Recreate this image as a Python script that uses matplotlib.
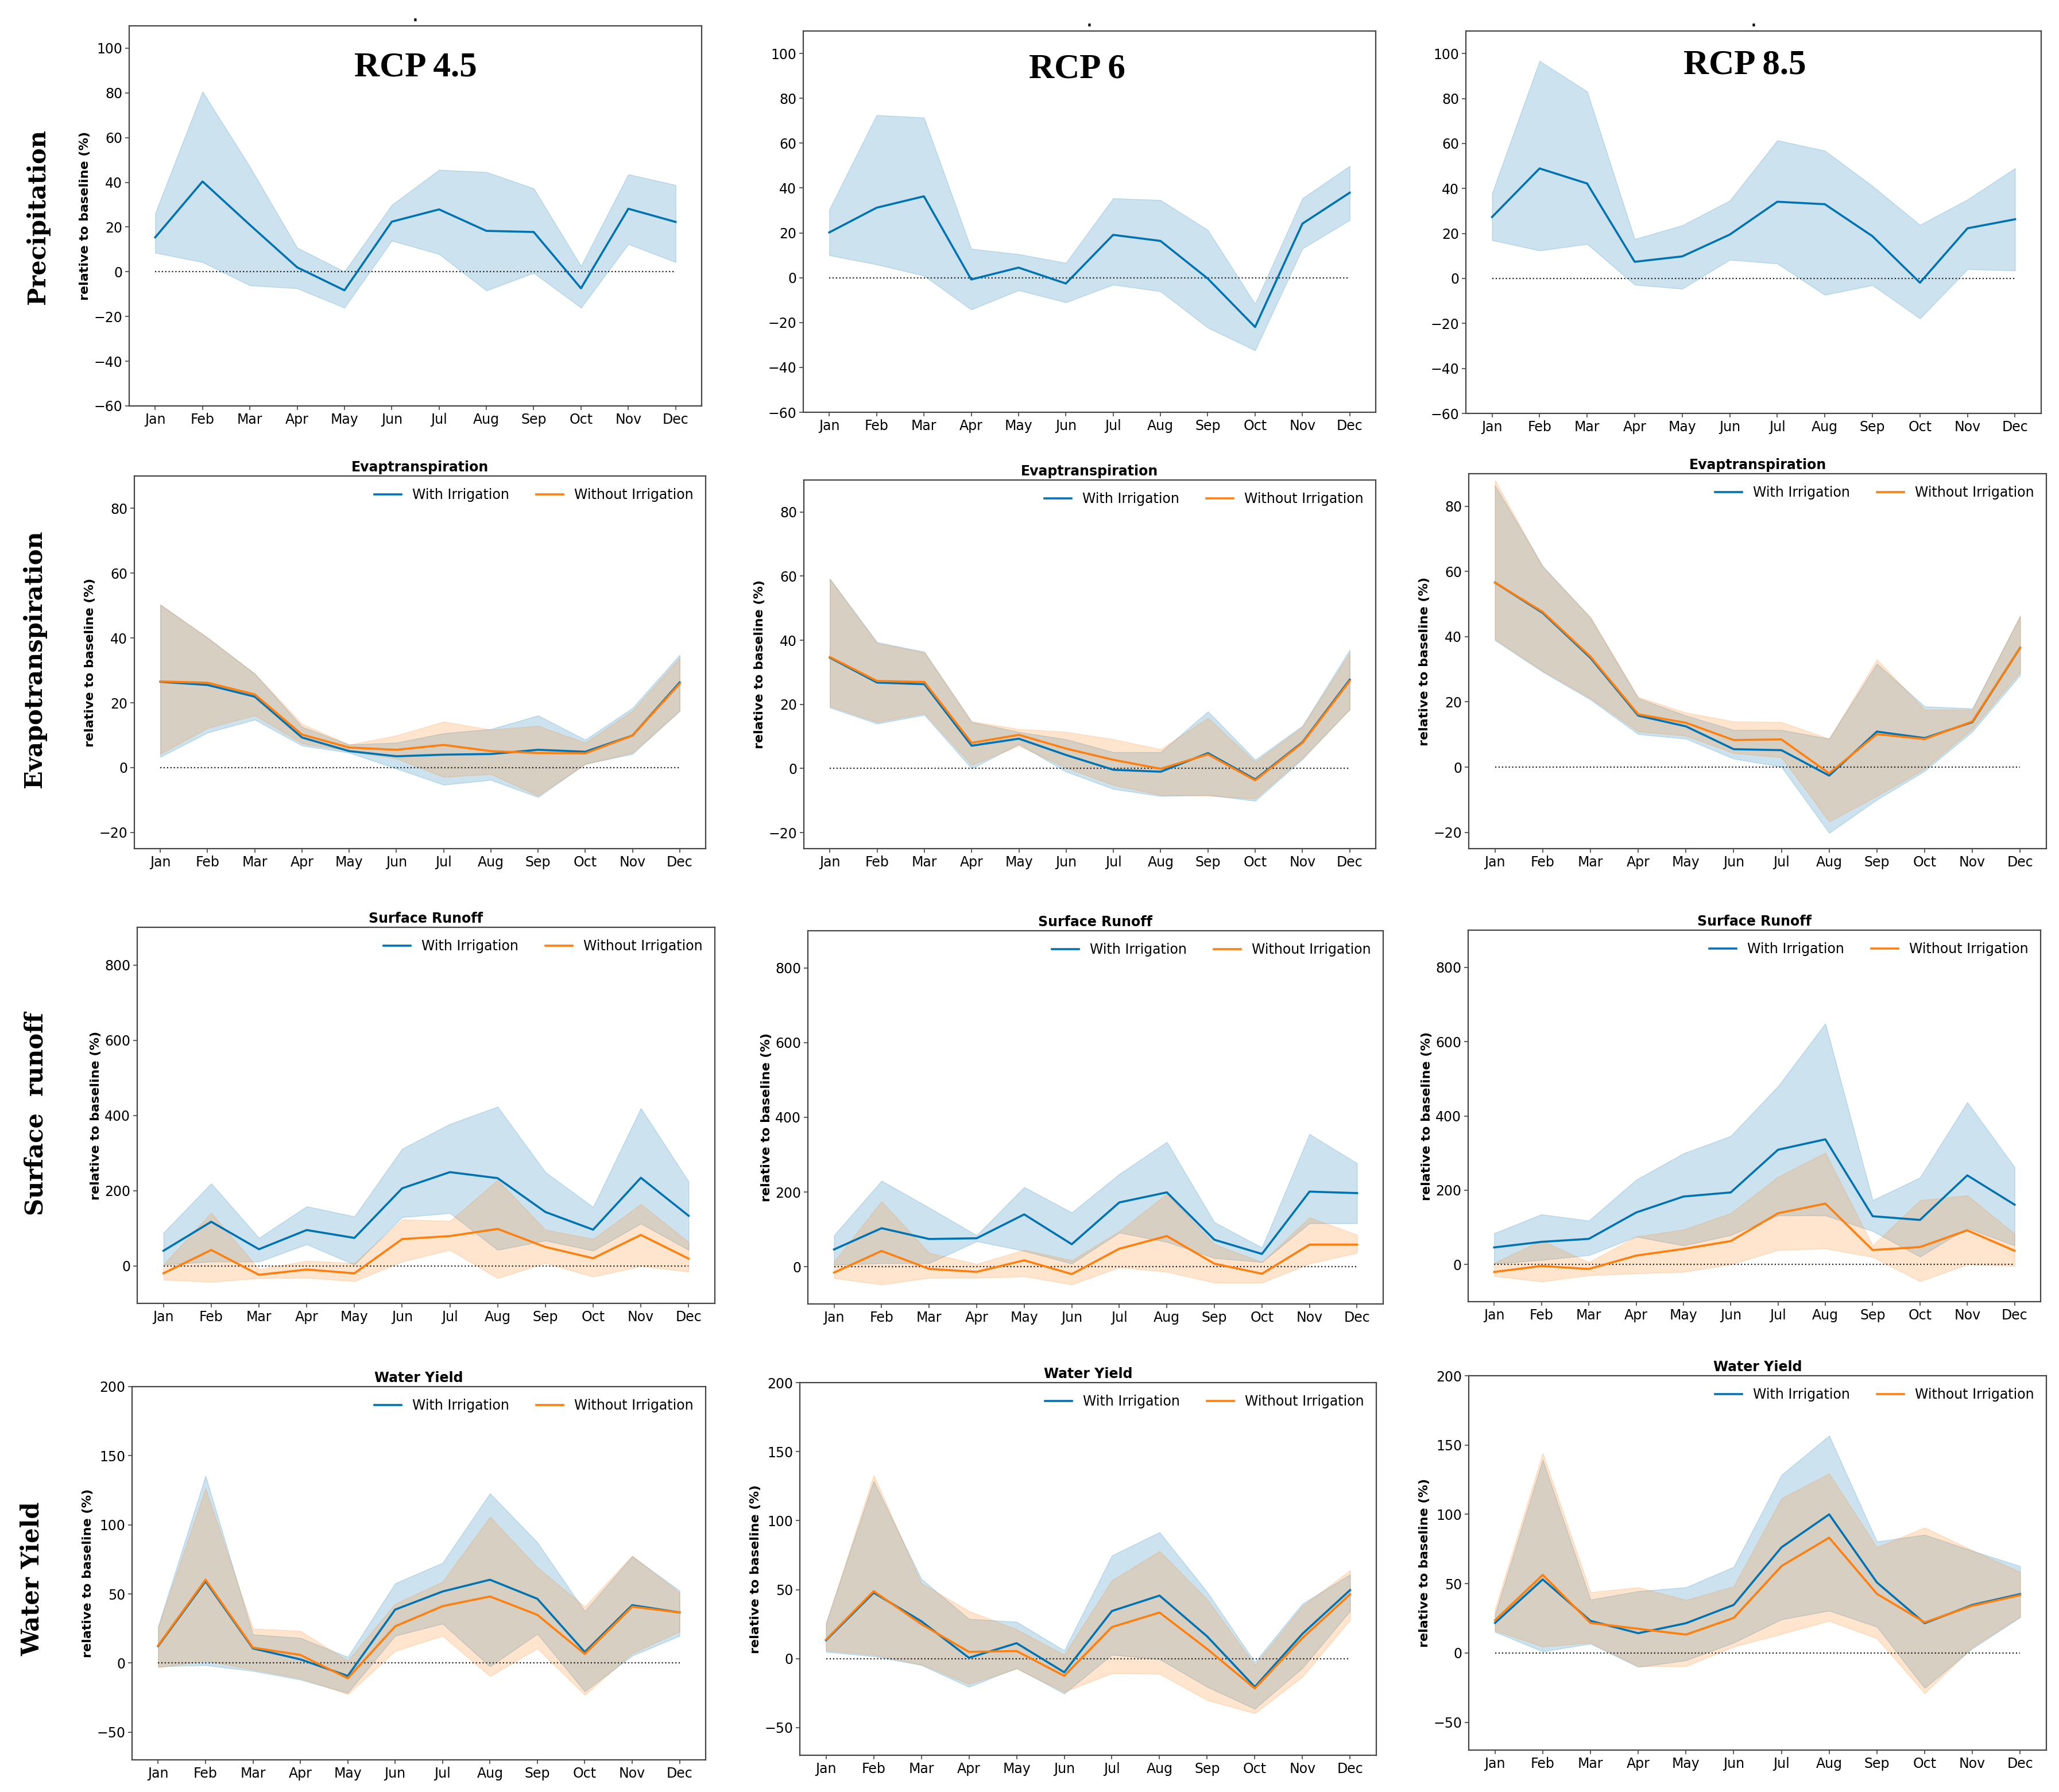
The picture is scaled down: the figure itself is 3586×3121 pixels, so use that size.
import numpy as np
import matplotlib
matplotlib.use("Agg")
import matplotlib.pyplot as plt

months = ["Jan", "Feb", "Mar", "Apr", "May", "Jun", "Jul", "Aug", "Sep", "Oct", "Nov", "Dec"]
scenarios = ["RCP 4.5", "RCP 6", "RCP 8.5"]
row_names = ["Precipitation", "Evapotranspiration", "Surface  runoff", "Water Yield"]
titles = [".", "Evaptranspiration", "Surface Runoff", "Water Yield"]
series_names = ["With Irrigation", "Without Irrigation"]

# --- precipitation (single series) ---
pr45_mean = [15.4, 40.4, 21.0, 2.0, -8.3, 22.4, 27.9, 18.3, 17.8, -7.4, 28.2, 22.3]
pr45_lo = [8.5, 4.3, -6.1, -7.4, -16.1, 13.9, 7.9, -8.4, -0.5, -16.1, 12.4, 4.3]
pr45_hi = [26.2, 80.6, 47.0, 10.8, 0.1, 29.9, 45.6, 44.6, 37.3, 2.6, 43.6, 38.8]

pr6_mean = [20.2, 31.2, 36.3, -0.8, 4.5, -2.6, 19.1, 16.4, -0.4, -22.0, 24.1, 37.9]
pr6_lo = [10.0, 5.9, 0.9, -14.2, -5.6, -11.0, -3.1, -6.1, -22.3, -32.4, 13.0, 25.7]
pr6_hi = [30.4, 72.5, 71.4, 12.9, 10.5, 6.6, 35.4, 34.6, 21.3, -11.7, 35.4, 49.8]

pr85_mean = [27.3, 48.9, 42.2, 7.4, 9.8, 19.5, 34.1, 33.0, 18.8, -1.9, 22.3, 26.3]
pr85_lo = [17.0, 12.4, 15.3, -2.8, -4.6, 8.3, 6.6, -7.3, -3.0, -17.8, 4.1, 3.5]
pr85_hi = [37.8, 96.7, 83.1, 17.5, 23.6, 34.6, 61.4, 56.8, 41.1, 23.8, 35.1, 49.0]

# --- evapotranspiration ---
et45_irr = [26.5, 25.5, 21.9, 9.3, 5.1, 3.5, 4.0, 4.2, 5.5, 4.9, 9.9, 26.3]
et45_irr_lo = [3.3, 10.8, 14.8, 6.8, 4.6, -0.3, -5.3, -3.8, -9.1, 1.1, 4.2, 17.5]
et45_irr_hi = [50.3, 40.1, 29.0, 12.6, 7.1, 7.7, 10.6, 11.9, 16.1, 8.6, 18.4, 34.8]
et45_no = [26.6, 26.2, 22.6, 10.2, 6.2, 5.5, 7.0, 5.1, 4.5, 4.4, 9.9, 25.9]
et45_no_lo = [4.2, 12.2, 16.1, 7.5, 5.1, 2.8, -2.9, -2.0, -8.7, 1.1, 4.6, 17.5]
et45_no_hi = [50.3, 40.1, 29.0, 13.5, 7.1, 9.9, 14.2, 11.7, 12.9, 7.7, 17.5, 33.9]

et6_irr = [34.6, 26.8, 26.3, 7.1, 9.3, 4.2, -0.4, -1.0, 4.8, -3.4, 8.2, 27.7]
et6_irr_lo = [19.0, 14.0, 16.7, 0.0, 7.6, -1.0, -6.4, -8.6, -8.3, -10.1, 2.9, 18.5]
et6_irr_hi = [59.2, 39.4, 36.4, 14.5, 11.4, 9.1, 5.1, 5.1, 17.8, 2.7, 13.3, 37.0]
et6_no = [34.8, 27.3, 27.0, 8.0, 10.5, 6.2, 2.7, -0.1, 4.4, -3.7, 8.0, 27.3]
et6_no_lo = [19.4, 14.5, 17.2, 1.1, 7.1, 0.2, -5.2, -8.3, -8.5, -9.4, 3.3, 18.3]
et6_no_hi = [59.1, 39.1, 36.2, 14.7, 12.3, 11.4, 9.1, 6.0, 15.8, 2.0, 13.0, 36.0]

et85_irr = [56.6, 47.3, 33.5, 15.8, 12.5, 5.5, 5.2, -2.6, 10.9, 8.9, 13.8, 36.6]
et85_irr_lo = [38.9, 29.2, 20.7, 10.1, 8.7, 2.6, 0.1, -20.2, -10.0, -1.2, 10.9, 28.2]
et85_irr_hi = [86.4, 61.7, 45.8, 21.1, 15.8, 11.4, 11.4, 8.7, 31.7, 18.6, 18.0, 46.3]
et85_no = [56.6, 47.6, 33.9, 16.2, 13.6, 8.3, 8.5, -1.9, 10.1, 8.6, 14.0, 36.6]
et85_no_lo = [39.2, 29.5, 21.1, 10.9, 9.6, 4.3, 3.0, -16.7, -8.9, -0.5, 11.8, 29.1]
et85_no_hi = [88.0, 61.3, 46.0, 21.5, 16.7, 14.0, 13.8, 8.7, 33.0, 17.6, 17.6, 46.5]

# --- surface runoff ---
sr45_irr = [40, 117, 44, 95, 74, 206, 249, 233, 143, 96, 234, 133]
sr45_irr_lo = [3, 11, 11, 57, 3, 129, 140, 42, 67, 40, 112, 42]
sr45_irr_hi = [88, 219, 74, 158, 131, 311, 377, 423, 249, 156, 419, 224]
sr45_no = [-20, 42, -24, -10, -20, 71, 79, 98, 50, 20, 82, 19]
sr45_no_lo = [-37, -43, -33, -32, -41, 11, 42, -33, 7, -29, -1, -16]
sr45_no_hi = [3, 141, -9, 13, 7, 123, 119, 228, 96, 71, 164, 63]

sr6_irr = [46, 103, 74, 76, 140, 60, 172, 199, 72, 34, 201, 197]
sr6_irr_lo = [5, 9, 9, 68, 42, 8, 91, 66, 23, 12, 116, 116]
sr6_irr_hi = [84, 230, 158, 84, 213, 145, 248, 334, 119, 51, 355, 277]
sr6_no = [-16, 42, -6, -14, 17, -20, 48, 82, 8, -19, 59, 59]
sr6_no_lo = [-31, -48, -30, -30, -26, -48, -2, -14, -43, -43, 8, 37]
sr6_no_hi = [13, 175, 37, 7, 45, 17, 95, 195, 60, 12, 132, 85]

sr85_irr = [46, 61, 69, 140, 183, 194, 309, 337, 130, 120, 240, 161]
sr85_irr_lo = [2, 12, 25, 75, 51, 79, 132, 132, 90, 21, 98, 51]
sr85_irr_hi = [84, 135, 118, 228, 299, 346, 480, 649, 173, 234, 437, 262]
sr85_no = [-20, -4, -12, 24, 42, 63, 138, 164, 39, 47, 92, 37]
sr85_no_lo = [-31, -46, -29, -24, -20, 0, 39, 43, 20, -45, 0, -4]
sr85_no_hi = [4, 65, 6, 75, 94, 138, 236, 301, 51, 173, 186, 83]

# --- water yield ---
wy45_irr = [12.3, 59.2, 10.6, 2.7, -9.3, 38.7, 51.8, 60.3, 46.5, 8.0, 41.9, 36.6]
wy45_irr_lo = [-2.5, -1.5, -5.7, -12.0, -21.6, 19.7, 28.5, -2.5, 21.1, -20.5, 5.3, 19.7]
wy45_irr_hi = [26.6, 135.5, 20.7, 18.2, 4.4, 57.7, 72.5, 122.8, 87.3, 37.6, 77.2, 52.4]
wy45_no = [12.7, 60.3, 11.2, 5.9, -11.0, 26.6, 41.2, 48.2, 34.9, 6.6, 40.8, 36.6]
wy45_no_lo = [-3.2, 1.7, -4.7, -11.0, -22.6, 8.7, 19.7, -9.5, 10.6, -23.0, 7.0, 22.8]
wy45_no_hi = [26.0, 126.4, 24.9, 23.3, 1.7, 42.9, 58.8, 105.9, 69.3, 40.8, 77.8, 50.7]

wy6_irr = [13.3, 47.8, 27.1, 0.6, 11.2, -9.9, 34.5, 45.7, 16.1, -20.5, 18.0, 49.7]
wy6_irr_lo = [4.9, 1.7, -4.7, -20.5, -6.8, -25.4, 2.8, -0.4, -20.5, -36.4, -6.8, 34.5]
wy6_irr_hi = [26.0, 128.7, 57.8, 28.8, 26.7, 5.9, 74.7, 91.6, 48.3, -2.5, 39.8, 61.0]
wy6_no = [13.8, 48.9, 25.0, 4.9, 5.5, -12.5, 22.9, 33.4, 7.0, -21.6, 15.0, 46.6]
wy6_no_lo = [5.9, 2.8, -4.2, -18.4, -7.4, -24.1, -10.6, -11.0, -30.1, -39.6, -13.1, 28.1]
wy6_no_hi = [25.0, 132.9, 54.6, 34.5, 21.2, 2.8, 56.7, 77.9, 43.0, -4.7, 38.1, 64.1]

wy85_irr = [21.7, 53.1, 23.2, 14.3, 21.5, 34.7, 76.2, 100.0, 50.9, 21.5, 34.7, 42.5]
wy85_irr_lo = [15.2, 1.1, 6.7, -10.1, -5.3, 7.4, 24.2, 30.5, 18.9, -25.3, 3.2, 25.7]
wy85_irr_hi = [27.8, 139.4, 38.5, 44.6, 47.4, 62.1, 128.4, 156.8, 80.4, 85.3, 73.7, 62.7]
wy85_no = [23.6, 56.4, 21.7, 17.5, 13.3, 25.3, 62.7, 83.2, 42.7, 22.1, 34.1, 41.7]
wy85_no_lo = [16.2, 4.6, 7.4, -9.5, -9.5, 4.6, 13.7, 23.2, 10.5, -29.1, 4.2, 26.3]
wy85_no_hi = [31.6, 144.2, 43.8, 47.4, 38.3, 48.0, 111.6, 129.5, 76.2, 90.5, 74.1, 58.5]

ylims = [(-60, 110), (-25, 90), (-100, 900), (-70, 200)]

# axes boxes in pixels (left, top, right, bottom) on a 3586 x 3121 canvas
boxes = [
    [(225, 45, 1222, 707), (1399, 54, 2396, 718), (2553, 54, 3555, 720)],
    [(234, 829, 1229, 1478), (1400, 836, 2396, 1478), (2558, 825, 3564, 1478)],
    [(239, 1615, 1245, 2270), (1407, 1621, 2409, 2271), (2557, 1620, 3554, 2267)],
    [(230, 2415, 1229, 3065), (1393, 2408, 2397, 3057), (2558, 2396, 3564, 3048)],
]
row_label_pos = [(66, 378), (60, 1148), (63, 1940), (56, 2750)]
rcp_pos = [(0.5, 0.89), (0.478, 0.90), (0.485, 0.91)]

W, H = 3586, 3121
BLUE = "#0173b2"
ORANGE = "#ff7f0e"

precip = [(pr45_mean, pr45_lo, pr45_hi), (pr6_mean, pr6_lo, pr6_hi), (pr85_mean, pr85_lo, pr85_hi)]
paired = [
    [((et45_irr, et45_irr_lo, et45_irr_hi), (et45_no, et45_no_lo, et45_no_hi)),
     ((et6_irr, et6_irr_lo, et6_irr_hi), (et6_no, et6_no_lo, et6_no_hi)),
     ((et85_irr, et85_irr_lo, et85_irr_hi), (et85_no, et85_no_lo, et85_no_hi))],
    [((sr45_irr, sr45_irr_lo, sr45_irr_hi), (sr45_no, sr45_no_lo, sr45_no_hi)),
     ((sr6_irr, sr6_irr_lo, sr6_irr_hi), (sr6_no, sr6_no_lo, sr6_no_hi)),
     ((sr85_irr, sr85_irr_lo, sr85_irr_hi), (sr85_no, sr85_no_lo, sr85_no_hi))],
    [((wy45_irr, wy45_irr_lo, wy45_irr_hi), (wy45_no, wy45_no_lo, wy45_no_hi)),
     ((wy6_irr, wy6_irr_lo, wy6_irr_hi), (wy6_no, wy6_no_lo, wy6_no_hi)),
     ((wy85_irr, wy85_irr_lo, wy85_irr_hi), (wy85_no, wy85_no_lo, wy85_no_hi))],
]

x = np.arange(len(months))

fig = plt.figure(figsize=(W / 100, H / 100), dpi=100)


def style_axes(ax, r):
    ax.set_xticks(x)
    ax.set_xticklabels(months)
    ax.set_ylim(*ylims[r])
    ax.tick_params(labelsize=17, length=5, width=1.2, color="#444444")
    for s in ax.spines.values():
        s.set_color("#444444")
        s.set_linewidth(1.6)
    ax.hlines(0, x[0], x[-1], colors="#222222", linestyles=":", linewidth=1.6, zorder=1)


for r in range(4):
    for c in range(3):
        l, t, rr, b = boxes[r][c]
        ax = fig.add_axes([l / W, 1 - b / H, (rr - l) / W, (b - t) / H])
        if r == 0:
            m, lo, hi = precip[c]
            ax.fill_between(x, lo, hi, color=BLUE, alpha=0.2, linewidth=1)
            ax.plot(x, m, color=BLUE, lw=2.6)
            ax.text(*rcp_pos[c], scenarios[c], transform=ax.transAxes, ha="center", va="center",
                    fontsize=44, fontweight="bold", family="Liberation Serif")
        else:
            for (m, lo, hi), col, name in zip(paired[r - 1][c], [BLUE, ORANGE], series_names):
                ax.fill_between(x, lo, hi, color=col, alpha=0.2, linewidth=1)
                ax.plot(x, m, color=col, lw=2.6, label=name)
            ax.legend(loc="upper right", ncol=2, frameon=False, fontsize=17)
        ax.set_title(titles[r], fontsize=17, fontweight="bold")
        if c == 0 or r > 0:
            ax.set_ylabel("relative to baseline (%)", fontsize=16, fontweight="bold")
        style_axes(ax, r)

for (px, py), name in zip(row_label_pos, row_names):
    fig.text(px / W, 1 - py / H, name, rotation=90, ha="center", va="center",
             fontsize=30, fontweight="bold", family="DejaVu Serif")

fig.savefig("out.png", dpi=100)
